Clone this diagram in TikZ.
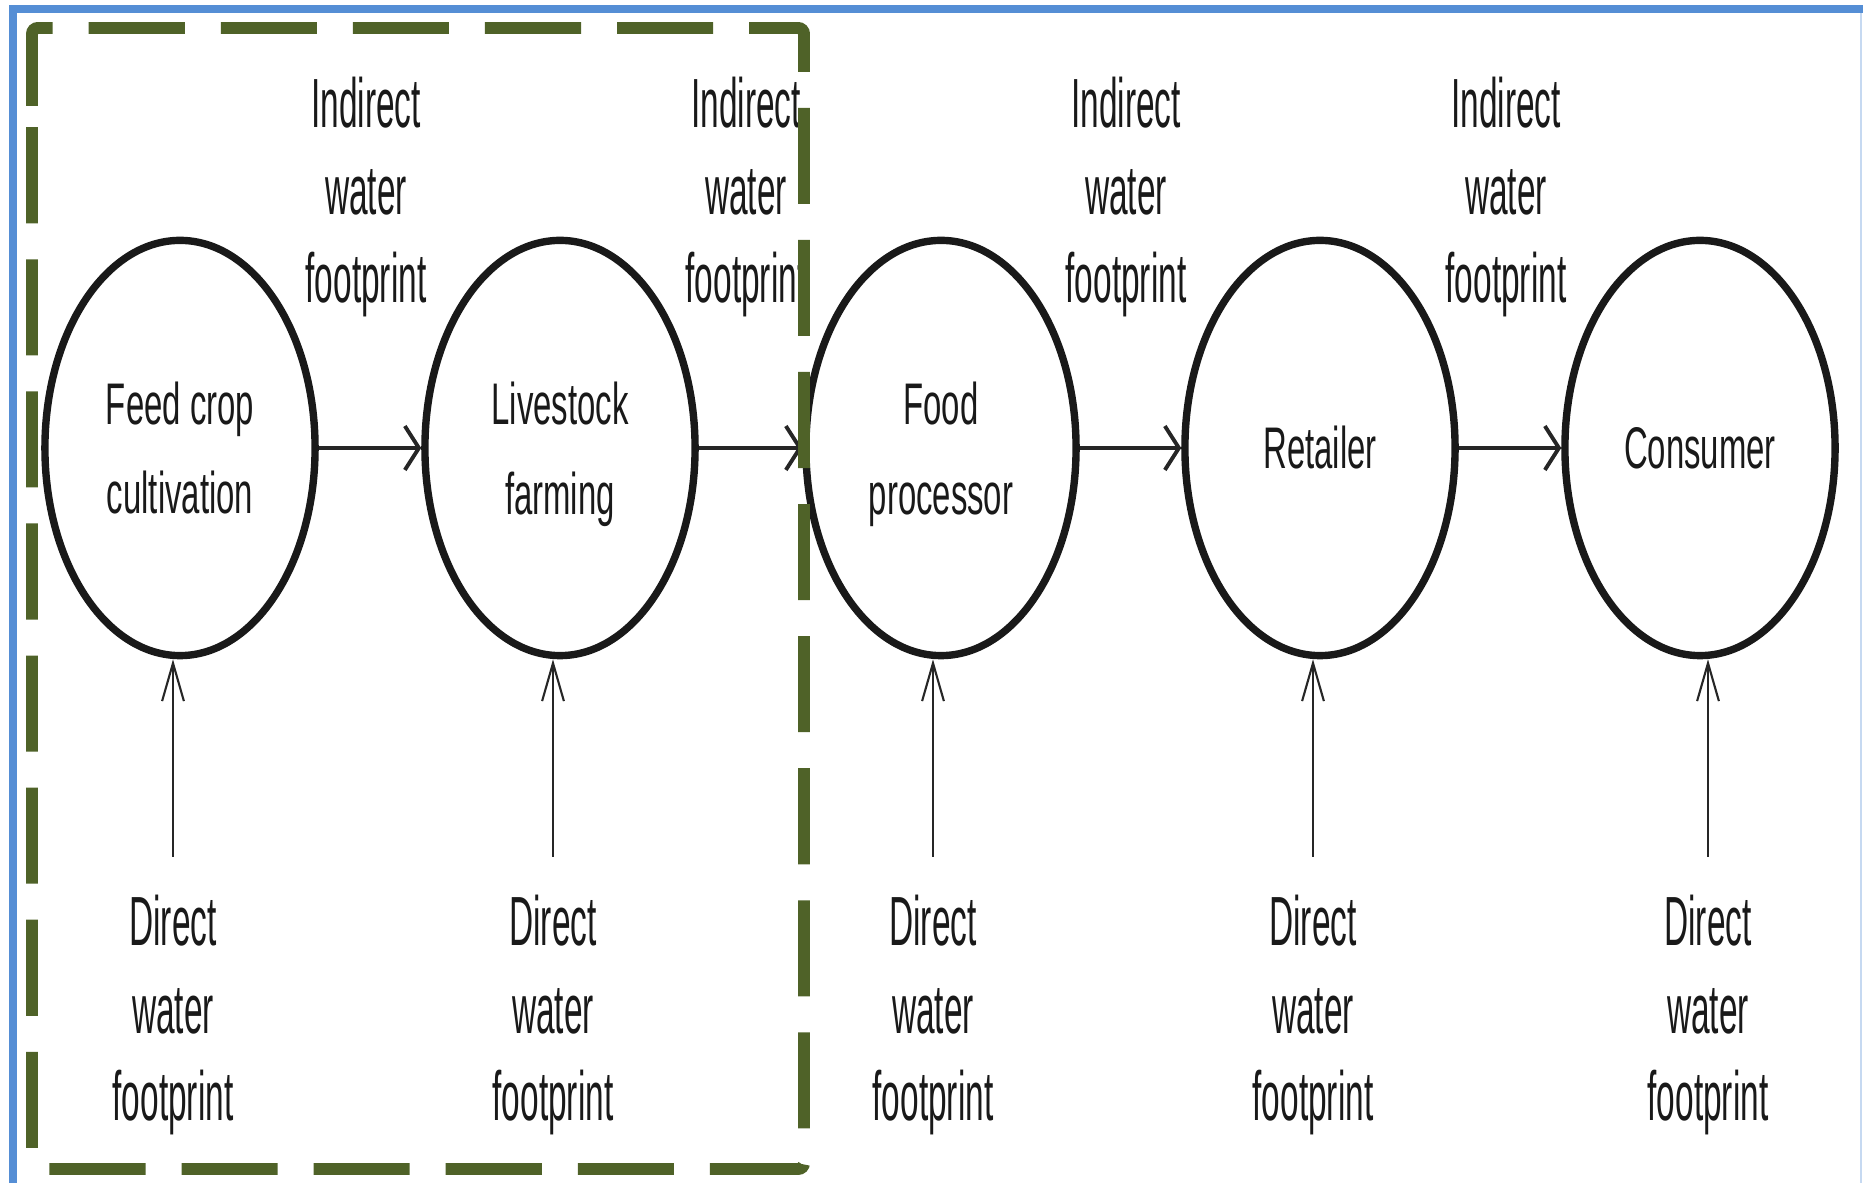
\documentclass[tikz,border=0pt]{standalone}
\usepackage{fontspec}
\setsansfont{Liberation Sans}
\newfontfamily\stagefont[FakeStretch=0.56]{Liberation Sans}
\newfontfamily\notefont[FakeStretch=0.48]{Liberation Sans}
\usetikzlibrary{shapes.geometric,arrows.meta,positioning}
\definecolor{boxgreen}{HTML}{4F6228}
\definecolor{frameblue}{HTML}{558ED5}
\definecolor{framepale}{HTML}{C6D9F1}
\newcommand{\nodepth}[1]{\raisebox{0pt}[\height][0pt]{#1}}

\begin{document}
\begin{tikzpicture}[
                x=0.01cm, y=-0.01cm,
                every node/.style={font=\sffamily, text=black!90},
                stagecirc/.style={ellipse, draw=black!90, line width=2.1pt, minimum width=2.7cm, minimum height=4.15cm, inner sep=0pt, align=center, font=\stagefont\fontsize{16.7}{25.5}\selectfont},
                wflabel/.style={inner sep=0pt, align=center, font=\notefont\fontsize{19.8}{25}\selectfont},
                flow/.style={-{Straight Barb[length=4pt, width=12.5pt]}, line width=1.1pt, draw=black!85},
                inflow/.style={-{Straight Barb[length=10.8pt, width=6.2pt]}, line width=0.6pt, draw=black!85},
                groupbox/.style={draw=boxgreen, line width=3.4pt, dash pattern=on 0.96cm off 0.36cm, rounded corners=0.06cm}
            ]
                \useasboundingbox (0,0) rectangle (1863,1183);

                % Stages of the supply chain
                \node[stagecirc] (feed)      at (180,448)  {Feed crop\\cultivation};
                \node[stagecirc] (livestock) at (560,448)  {Livestock\\\nodepth{farming}};
                \node[stagecirc] (processor) at (941,448)  {Food\\\nodepth{processor}};
                \node[stagecirc] (retailer)  at (1320,448) {Retailer};
                \node[stagecirc] (consumer)  at (1700,448) {Consumer};

                % Indirect water footprint between stages
                \foreach \x/\n in {366/1,746/2,1126/3,1506/4} {
                    \node[wflabel] (indirect\n) at (\x,197) {Indirect\\water\\footprint};
                }

                % Direct water footprint into each stage
                \foreach \x/\s in {173/feed,553/livestock,933/processor,1313/retailer,1708/consumer} {
                    \node[wflabel] (direct\s) at (\x,1015) {Direct\\water\\footprint};
                    \draw[inflow] ([yshift=0.37cm]direct\s.north) -- (direct\s.north |- \s.south);
                }

                % Flow along the chain
                \draw[flow] (feed.east) -- (livestock.west);
                \draw[flow] (livestock.east) -- (processor.west);
                \draw[flow] (processor.east) -- (retailer.west);
                \draw[flow] (retailer.east) -- (consumer.west);

                % Outer frame
                \draw[framepale, line width=0.6pt] (1861,9) -- (1861,1183);
                \draw[frameblue, line width=2.3pt] (13,1183) -- (13,9) -- (1863,9);

                % Dashed box round the farm stages
                \draw[groupbox] (32,112) -- (32,28) -- (804,28) -- (804,1169) -- (32,1169) -- cycle;
            \end{tikzpicture}
\end{document}
